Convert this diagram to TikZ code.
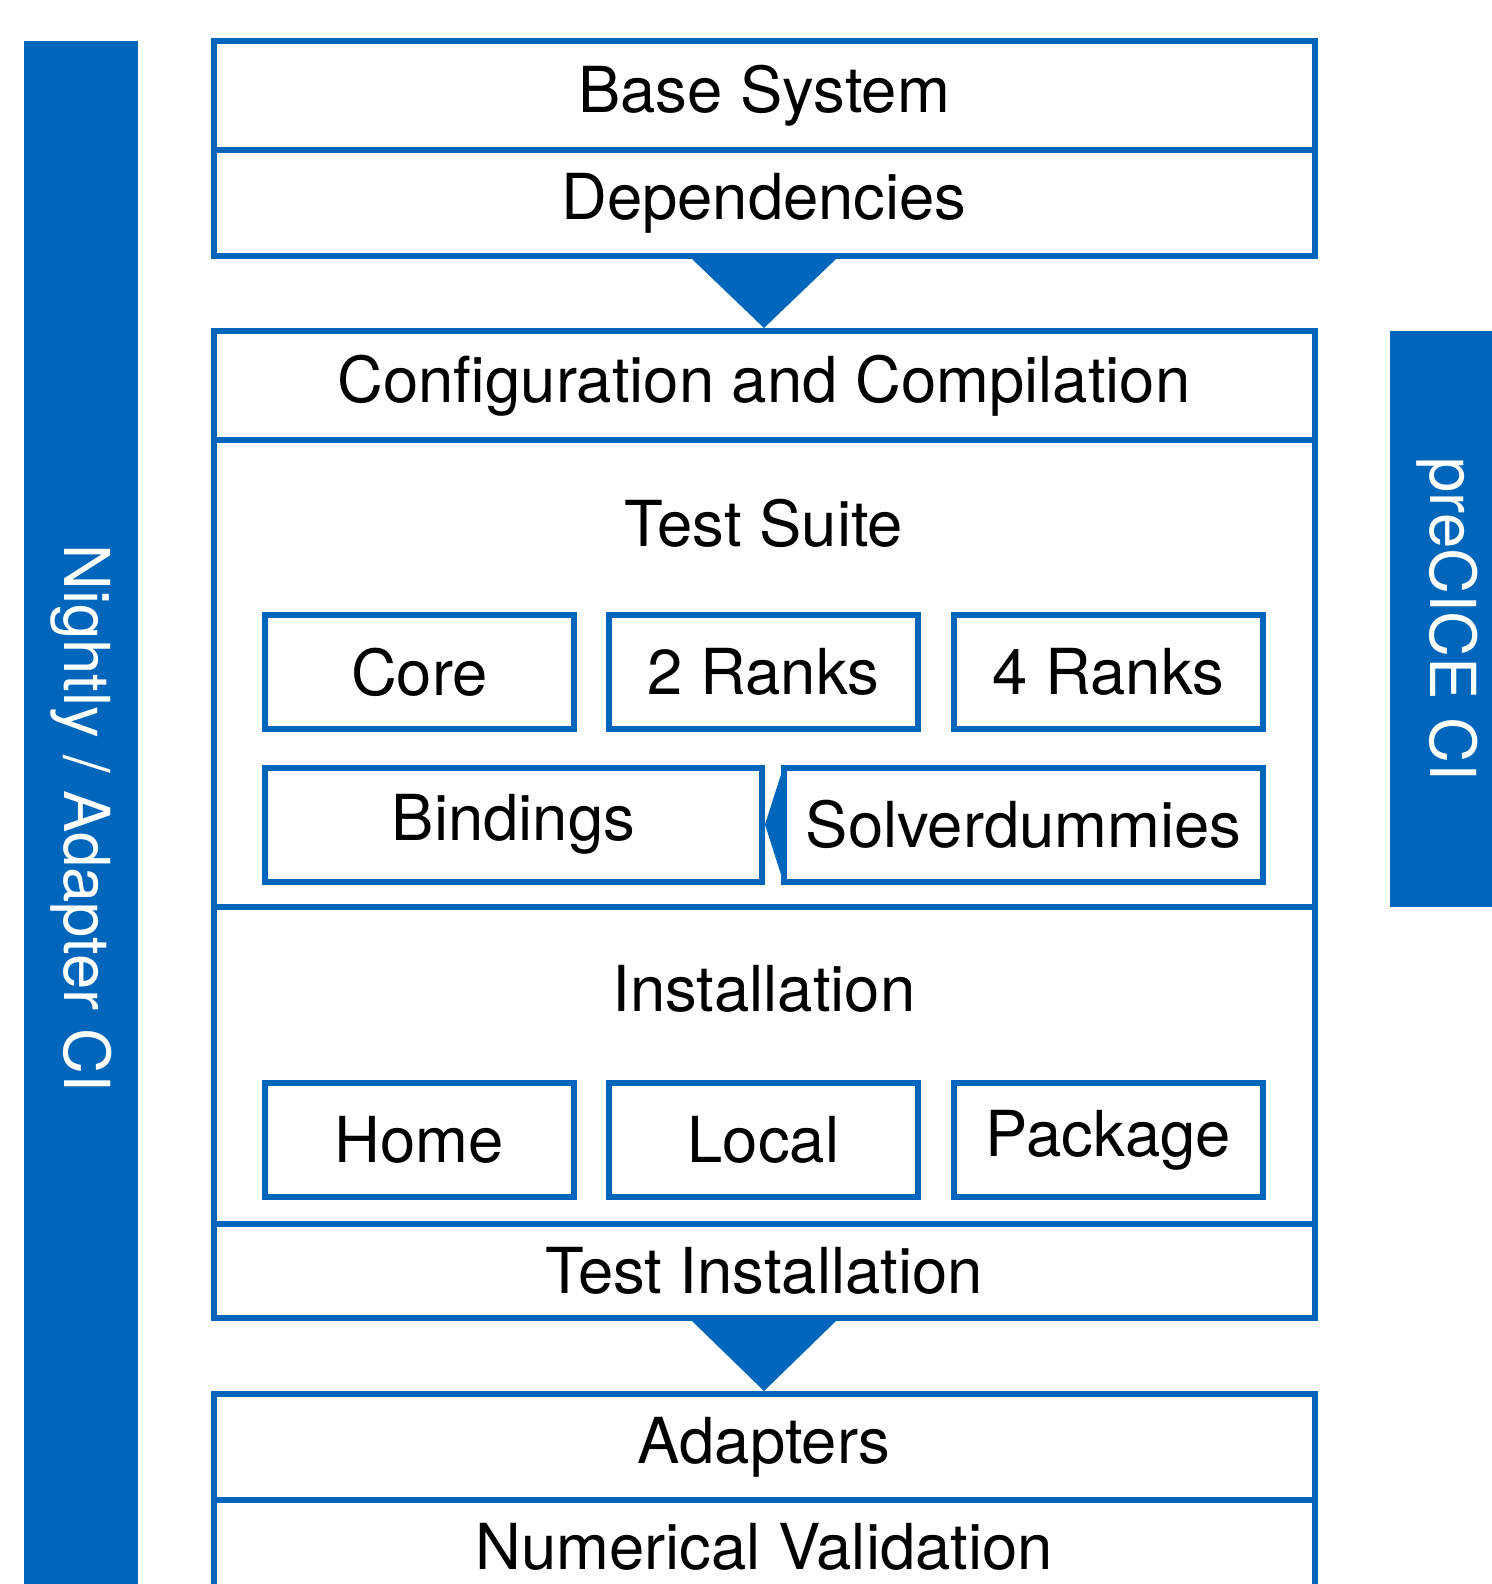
\documentclass[tikz,border=0pt]{standalone}
\usepackage{fontspec}
\setmainfont{TeX Gyre Heros}
\definecolor{ciblue}{HTML}{0066BB}
\begin{document}
\begin{tikzpicture}[x=0.5pt, y=-0.5pt,
        every node/.style={font=\fontsize{31.7}{38}\selectfont},
        stage/.style={draw=ciblue, line width=3pt, minimum width=550.5pt, inner sep=0pt},
        job/.style={draw=ciblue, line width=3pt, minimum width=154.5pt, minimum height=57pt, inner sep=0pt},
        band/.style={fill=ciblue, text=white, rotate=-90, minimum height=57pt, inner sep=0pt}]
        \useasboundingbox (0,0) rectangle (1492,1584);

        % CI bands
        \node[band, minimum width=777pt] (nightly) at (81,818) {Nightly / Adapter CI};
        \node[band, minimum width=288pt] (preciceci) at (1447,619) {preCICE CI};

        % setup
        \node[stage, minimum height=54.25pt] (base) at (764,95.75) {Base System};
        \node[stage, minimum height=53pt] (deps) at (764,203) {Dependencies};

        % build, test, install
        \node[stage, minimum height=54.5pt] (config) at (764,385.5) {Configuration and Compilation};
        \node[stage, minimum height=233.5pt] (suite) at (764,673.5) {};
        \node (suitelbl) at (764,523) {Test Suite};
        \node[job] (core) at (419.5,672) {Core};
        \node[job] (ranks2) at (763.5,672) {2 Ranks};
        \node[job] (ranks4) at (1108.5,672) {4 Ranks};
        \node[job, minimum width=248.5pt] (bind) at (513.5,824.5) {Bindings};
        \node[job, minimum width=239.5pt] (solver) at (1023.5,824.5) {Solverdummies};

        \node[stage, minimum height=158.5pt] (install) at (764,1065.5) {};
        \node (installlbl) at (764,989) {Installation};
        \node[job] (home) at (419.5,1140) {Home};
        \node[job] (local) at (763.5,1140) {Local};
        \node[job] (package) at (1108.5,1140) {Package};
        \node[stage, minimum height=47pt] (testinst) at (764,1271) {Test Installation};

        % adapters
        \node[stage, minimum height=53pt] (adapters) at (764,1447) {Adapters};
        \node[stage, minimum height=47pt] (numval) at (764,1547) {Numerical Validation};

        % arrows
        \fill[ciblue] ([xshift=-36pt]deps.south) -- ([xshift=36pt]deps.south) -- (config.north) -- cycle;
        \fill[ciblue] ([xshift=-36pt]testinst.south) -- ([xshift=36pt]testinst.south) -- (adapters.north) -- cycle;
        \fill[ciblue] ([yshift=25pt]solver.west) -- ([yshift=-25pt]solver.west) -- (bind.east) -- cycle;
    \end{tikzpicture}
\end{document}
